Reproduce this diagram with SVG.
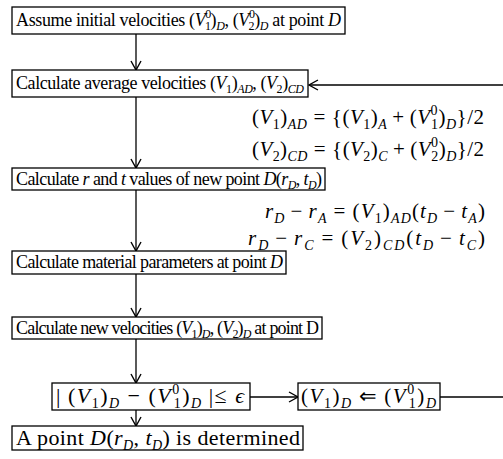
<svg xmlns="http://www.w3.org/2000/svg" width="503" height="459" viewBox="0 0 503 459">
<style>
.bg{fill:#fff}
rect.b{fill:#fff;stroke:#000;stroke-width:1.3}
.t{font-family:"Liberation Serif","Times New Roman",serif;font-size:18px;fill:#000}
.e{font-size:21px}
.f{font-size:22px}
.i{font-style:italic}
.s{font-size:12px}
.e .s,.f .s{font-size:14px}
.c{stroke:#000;stroke-width:1.3;fill:none}
</style>
<defs>
<marker id="ah" markerWidth="12" markerHeight="12" refX="10" refY="6" orient="auto" markerUnits="userSpaceOnUse">
<path d="M1,1 L10,6 L1,11" fill="none" stroke="#000" stroke-width="1.4"/>
</marker>
</defs>
<rect class="bg" x="0" y="0" width="503" height="459"/>
<g id="connectors">
<line class="c" x1="136" y1="34" x2="136" y2="70" marker-end="url(#ah)"/>
<line class="c" x1="136" y1="97" x2="136" y2="168" marker-end="url(#ah)"/>
<line class="c" x1="136" y1="190" x2="136" y2="251" marker-end="url(#ah)"/>
<line class="c" x1="136" y1="274" x2="136" y2="317" marker-end="url(#ah)"/>
<line class="c" x1="136" y1="339" x2="136" y2="383" marker-end="url(#ah)"/>
<line class="c" x1="136" y1="410" x2="136" y2="426" marker-end="url(#ah)"/>
<line class="c" x1="250" y1="397" x2="298" y2="397" marker-end="url(#ah)"/>
<line class="c" x1="440" y1="397" x2="503" y2="397"/>
<line class="c" x1="503" y1="85" x2="309" y2="85" marker-end="url(#ah)"/>
</g>
<g id="n1">
<rect class="b" x="12" y="7" width="333" height="27"/>
<text class="t" x="16" y="26" textLength="325" lengthAdjust="spacing">Assume initial velocities (<tspan class="i">V</tspan><tspan class="s" dy="-8">0</tspan><tspan class="s" dx="-6" dy="12">1</tspan><tspan dy="-4">)</tspan><tspan class="s i" dy="4">D</tspan><tspan dy="-4">, (</tspan><tspan class="i">V</tspan><tspan class="s" dy="-8">0</tspan><tspan class="s" dx="-6" dy="12">2</tspan><tspan dy="-4">)</tspan><tspan class="s i" dy="4">D</tspan><tspan dy="-4"> at point </tspan><tspan class="i">D</tspan></text>
</g>
<g id="n2">
<rect class="b" x="12" y="70" width="296" height="27"/>
<text class="t" x="16" y="89" textLength="288" lengthAdjust="spacing">Calculate average velocities (<tspan class="i">V</tspan><tspan class="s" dy="4">1</tspan><tspan dy="-4">)</tspan><tspan class="s i" dy="4">AD</tspan><tspan dy="-4">, (</tspan><tspan class="i">V</tspan><tspan class="s" dy="4">2</tspan><tspan dy="-4">)</tspan><tspan class="s i" dy="4">CD</tspan></text>
</g>
<g id="eq1">
<text class="t e" x="252" y="124" textLength="232" lengthAdjust="spacing">(<tspan class="i">V</tspan><tspan class="s" dy="5">1</tspan><tspan dy="-5">)</tspan><tspan class="s i" dy="5">AD</tspan><tspan dy="-5" dx="6">=</tspan><tspan dx="6">{(</tspan><tspan class="i">V</tspan><tspan class="s" dy="5">1</tspan><tspan dy="-5">)</tspan><tspan class="s i" dy="5">A</tspan><tspan dy="-5" dx="5">+</tspan><tspan dx="5">(</tspan><tspan class="i">V</tspan><tspan class="s" dy="-9">0</tspan><tspan class="s" dx="-7" dy="14">1</tspan><tspan dy="-5">)</tspan><tspan class="s i" dy="5">D</tspan><tspan dy="-5">}/2</tspan></text>
</g>
<g id="eq2">
<text class="t e" x="252" y="156" textLength="232" lengthAdjust="spacing">(<tspan class="i">V</tspan><tspan class="s" dy="5">2</tspan><tspan dy="-5">)</tspan><tspan class="s i" dy="5">CD</tspan><tspan dy="-5" dx="6">=</tspan><tspan dx="6">{(</tspan><tspan class="i">V</tspan><tspan class="s" dy="5">2</tspan><tspan dy="-5">)</tspan><tspan class="s i" dy="5">C</tspan><tspan dy="-5" dx="5">+</tspan><tspan dx="5">(</tspan><tspan class="i">V</tspan><tspan class="s" dy="-9">0</tspan><tspan class="s" dx="-7" dy="14">2</tspan><tspan dy="-5">)</tspan><tspan class="s i" dy="5">D</tspan><tspan dy="-5">}/2</tspan></text>
</g>
<g id="n3">
<rect class="b" x="12" y="168" width="313" height="22"/>
<text class="t" x="16" y="185" textLength="306" lengthAdjust="spacing">Calculate <tspan class="i">r</tspan> and <tspan class="i">t</tspan> values of new point <tspan class="i">D</tspan>(<tspan class="i">r</tspan><tspan class="s i" dy="4">D</tspan><tspan dy="-4">, </tspan><tspan class="i">t</tspan><tspan class="s i" dy="4">D</tspan><tspan dy="-4">)</tspan></text>
</g>
<g id="eq3">
<text class="t e" x="265" y="218" textLength="220" lengthAdjust="spacing"><tspan class="i">r</tspan><tspan class="s i" dy="5">D</tspan><tspan dy="-5" dx="5">−</tspan><tspan class="i" dx="5">r</tspan><tspan class="s i" dy="5">A</tspan><tspan dy="-5" dx="6">=</tspan><tspan dx="6">(</tspan><tspan class="i">V</tspan><tspan class="s" dy="5">1</tspan><tspan dy="-5">)</tspan><tspan class="s i" dy="5">AD</tspan><tspan dy="-5">(</tspan><tspan class="i">t</tspan><tspan class="s i" dy="5">D</tspan><tspan dy="-5" dx="5">−</tspan><tspan class="i" dx="5">t</tspan><tspan class="s i" dy="5">A</tspan><tspan dy="-5">)</tspan></text>
</g>
<g id="eq4">
<text class="t e" x="248" y="245" textLength="237" lengthAdjust="spacing"><tspan class="i">r</tspan><tspan class="s i" dy="5">D</tspan><tspan dy="-5" dx="5">−</tspan><tspan class="i" dx="5">r</tspan><tspan class="s i" dy="5">C</tspan><tspan dy="-5" dx="6">=</tspan><tspan dx="6">(</tspan><tspan class="i">V</tspan><tspan class="s" dy="5">2</tspan><tspan dy="-5">)</tspan><tspan class="s i" dy="5">CD</tspan><tspan dy="-5">(</tspan><tspan class="i">t</tspan><tspan class="s i" dy="5">D</tspan><tspan dy="-5" dx="5">−</tspan><tspan class="i" dx="5">t</tspan><tspan class="s i" dy="5">C</tspan><tspan dy="-5">)</tspan></text>
</g>
<g id="n4">
<rect class="b" x="12" y="251" width="274" height="23"/>
<text class="t" x="16" y="268" textLength="267" lengthAdjust="spacing">Calculate material parameters at point <tspan class="i">D</tspan></text>
</g>
<g id="n5">
<rect class="b" x="12" y="317" width="310" height="22"/>
<text class="t" x="16" y="334" textLength="303" lengthAdjust="spacing">Calculate new velocities (<tspan class="i">V</tspan><tspan class="s" dy="4">1</tspan><tspan dy="-4">)</tspan><tspan class="s i" dy="4">D</tspan><tspan dy="-4">, (</tspan><tspan class="i">V</tspan><tspan class="s" dy="4">2</tspan><tspan dy="-4">)</tspan><tspan class="s i" dy="4">D</tspan><tspan dy="-4"> at point D</tspan></text>
</g>
<g id="n6">
<rect class="b" x="52" y="383" width="198" height="27"/>
<text class="t f" x="56" y="403" textLength="188" lengthAdjust="spacing">|<tspan dx="6">(</tspan><tspan class="i">V</tspan><tspan class="s" dy="5">1</tspan><tspan dy="-5">)</tspan><tspan class="s i" dy="5">D</tspan><tspan dy="-5" dx="7">−</tspan><tspan dx="7">(</tspan><tspan class="i">V</tspan><tspan class="s" dy="-9">0</tspan><tspan class="s" dx="-7" dy="14">1</tspan><tspan dy="-5">)</tspan><tspan class="s i" dy="5">D</tspan><tspan dy="-5" dx="6">|≤</tspan><tspan class="i" dx="7">ϵ</tspan></text>
</g>
<g id="n7">
<rect class="b" x="298" y="383" width="142" height="27"/>
<text class="t e" x="301" y="403" textLength="135" lengthAdjust="spacing">(<tspan class="i">V</tspan><tspan class="s" dy="5">1</tspan><tspan dy="-5">)</tspan><tspan class="s i" dy="5">D</tspan><tspan dy="-5" dx="6">⇐</tspan><tspan dx="6">(</tspan><tspan class="i">V</tspan><tspan class="s" dy="-9">0</tspan><tspan class="s" dx="-7" dy="14">1</tspan><tspan dy="-5">)</tspan><tspan class="s i" dy="5">D</tspan></text>
</g>
<g id="n8">
<rect class="b" x="12" y="426" width="291" height="24"/>
<text class="t f" x="16" y="445" textLength="284" lengthAdjust="spacing">A point <tspan class="i">D</tspan>(<tspan class="i">r</tspan><tspan class="s i" dy="5">D</tspan><tspan dy="-5">, </tspan><tspan class="i">t</tspan><tspan class="s i" dy="5">D</tspan><tspan dy="-5">) is determined</tspan></text>
</g>
</svg>
